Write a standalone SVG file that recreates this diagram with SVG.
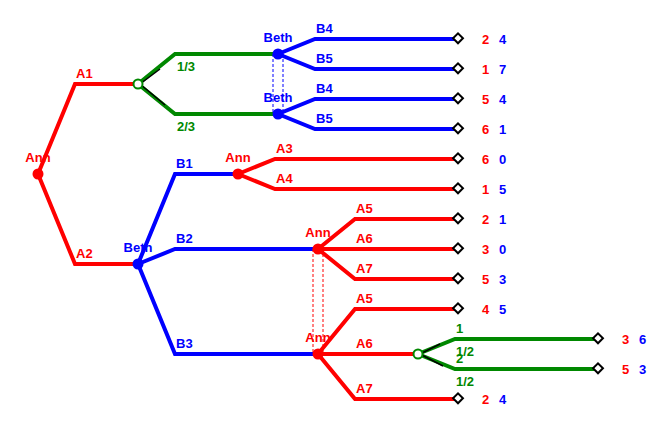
<svg xmlns="http://www.w3.org/2000/svg" width="665" height="431" viewBox="0 0 665 431">
<style>
text{font-family:"Liberation Sans",Arial,sans-serif;font-size:13px;font-weight:bold}
.r{stroke:#f00}.b{stroke:#00f}.g{stroke:#080}
.e{fill:none;stroke-width:4}
.tr{fill:#f00}.tb{fill:#00f}.tg{fill:#080}
.d{fill:#fff;stroke:#000;stroke-width:2}
.dash{fill:none;stroke-width:1;stroke-dasharray:3,2}
</style>
<rect width="665" height="431" fill="#fff"/>
<g id="connectors">
<polyline class="e r" points="38,174 75,84 138,84"/>
<polyline class="e r" points="38,174 75,264 138,264"/>
<polyline class="e g" points="138,84 175,54 278,54"/>
<polyline class="e g" points="138,84 175,114 278,114"/>
<line x1="140" y1="84" x2="160" y2="69" stroke="#000" stroke-width="1.5"/>
<line x1="140" y1="84" x2="165" y2="105" stroke="#000" stroke-width="1.5"/>
<polyline class="e b" points="278,54 315,39 458,39"/>
<polyline class="e b" points="278,54 315,69 458,69"/>
<polyline class="e b" points="278,114 315,99 458,99"/>
<polyline class="e b" points="278,114 315,129 458,129"/>
<line class="dash b" x1="273" y1="54" x2="273" y2="114"/>
<line class="dash b" x1="283" y1="54" x2="283" y2="114"/>
<polyline class="e b" points="138,264 175,174 238,174"/>
<polyline class="e b" points="138,264 175,249 318,249"/>
<polyline class="e b" points="138,264 175,354 318,354"/>
<polyline class="e r" points="238,174 275,159 458,159"/>
<polyline class="e r" points="238,174 275,189 458,189"/>
<polyline class="e r" points="318,249 355,219 458,219"/>
<polyline class="e r" points="318,249 458,249"/>
<polyline class="e r" points="318,249 355,279 458,279"/>
<polyline class="e r" points="318,354 355,309 458,309"/>
<polyline class="e r" points="318,354 418,354"/>
<polyline class="e r" points="318,354 355,399 458,399"/>
<line class="dash r" x1="313" y1="249" x2="313" y2="354"/>
<line class="dash r" x1="323" y1="249" x2="323" y2="354"/>
<polyline class="e g" points="418,354 455,339 598,339"/>
<polyline class="e g" points="418,354 455,369 598,369"/>
<line x1="420" y1="354" x2="440" y2="344" stroke="#000" stroke-width="1.5"/>
<line x1="420" y1="354" x2="443" y2="366" stroke="#000" stroke-width="1.5"/>
</g>
<g id="n-root"><circle cx="38" cy="174" r="5.5" fill="#f00"/><text x="38" y="162" class="tr" text-anchor="middle">Ann</text></g>
<g id="n-chance1"><circle cx="138" cy="84" r="4.5" fill="#fff" stroke="#080" stroke-width="2"/></g>
<g id="n-beth1"><circle cx="278" cy="54" r="5.5" fill="#00f"/><text x="278" y="42" class="tb" text-anchor="middle">Beth</text></g>
<g id="n-beth2"><circle cx="278" cy="114" r="5.5" fill="#00f"/><text x="278" y="102" class="tb" text-anchor="middle">Beth</text></g>
<g id="n-beth3"><circle cx="138" cy="264" r="5.5" fill="#00f"/><text x="138" y="252" class="tb" text-anchor="middle">Beth</text></g>
<g id="n-ann2"><circle cx="238" cy="174" r="5.5" fill="#f00"/><text x="238" y="162" class="tr" text-anchor="middle">Ann</text></g>
<g id="n-ann3"><circle cx="318" cy="249" r="5.5" fill="#f00"/><text x="318" y="237" class="tr" text-anchor="middle">Ann</text></g>
<g id="n-ann4"><circle cx="318" cy="354" r="5.5" fill="#f00"/><text x="318" y="342" class="tr" text-anchor="middle">Ann</text></g>
<g id="n-chance2"><circle cx="418" cy="354" r="4.5" fill="#fff" stroke="#080" stroke-width="2"/></g>
<g id="labels">
<text x="76" y="78" class="tr">A1</text>
<text x="76" y="258" class="tr">A2</text>
<text x="177" y="71" class="tg">1/3</text>
<text x="177" y="131" class="tg">2/3</text>
<text x="316" y="33" class="tb">B4</text>
<text x="316" y="63" class="tb">B5</text>
<text x="316" y="93" class="tb">B4</text>
<text x="316" y="123" class="tb">B5</text>
<text x="176" y="168" class="tb">B1</text>
<text x="176" y="243" class="tb">B2</text>
<text x="176" y="348" class="tb">B3</text>
<text x="276" y="153" class="tr">A3</text>
<text x="276" y="183" class="tr">A4</text>
<text x="356" y="213" class="tr">A5</text>
<text x="356" y="243" class="tr">A6</text>
<text x="356" y="273" class="tr">A7</text>
<text x="356" y="303" class="tr">A5</text>
<text x="356" y="348" class="tr">A6</text>
<text x="356" y="393" class="tr">A7</text>
<text x="456" y="333" class="tg">1</text>
<text x="456" y="356" class="tg">1/2</text>
<text x="456" y="363" class="tg">2</text>
<text x="456" y="386" class="tg">1/2</text>
</g>
<g id="terminals">
<g class="d">
<rect x="454" y="35" width="7" height="7" transform="rotate(45 458 39)"/>
<rect x="454" y="65" width="7" height="7" transform="rotate(45 458 69)"/>
<rect x="454" y="95" width="7" height="7" transform="rotate(45 458 99)"/>
<rect x="454" y="125" width="7" height="7" transform="rotate(45 458 129)"/>
<rect x="454" y="155" width="7" height="7" transform="rotate(45 458 159)"/>
<rect x="454" y="185" width="7" height="7" transform="rotate(45 458 189)"/>
<rect x="454" y="215" width="7" height="7" transform="rotate(45 458 219)"/>
<rect x="454" y="245" width="7" height="7" transform="rotate(45 458 249)"/>
<rect x="454" y="275" width="7" height="7" transform="rotate(45 458 279)"/>
<rect x="454" y="305" width="7" height="7" transform="rotate(45 458 309)"/>
<rect x="454" y="395" width="7" height="7" transform="rotate(45 458 399)"/>
<rect x="594" y="335" width="7" height="7" transform="rotate(45 598 339)"/>
<rect x="594" y="365" width="7" height="7" transform="rotate(45 598 369)"/>
</g>
<g class="tr">
<text x="482" y="44">2</text><text x="482" y="74">1</text><text x="482" y="104">5</text><text x="482" y="134">6</text>
<text x="482" y="164">6</text><text x="482" y="194">1</text><text x="482" y="224">2</text><text x="482" y="254">3</text>
<text x="482" y="284">5</text><text x="482" y="314">4</text><text x="482" y="404">2</text>
<text x="622" y="344">3</text><text x="622" y="374">5</text>
</g>
<g class="tb">
<text x="499" y="44">4</text><text x="499" y="74">7</text><text x="499" y="104">4</text><text x="499" y="134">1</text>
<text x="499" y="164">0</text><text x="499" y="194">5</text><text x="499" y="224">1</text><text x="499" y="254">0</text>
<text x="499" y="284">3</text><text x="499" y="314">5</text><text x="499" y="404">4</text>
<text x="639" y="344">6</text><text x="639" y="374">3</text>
</g>
</g>
</svg>
